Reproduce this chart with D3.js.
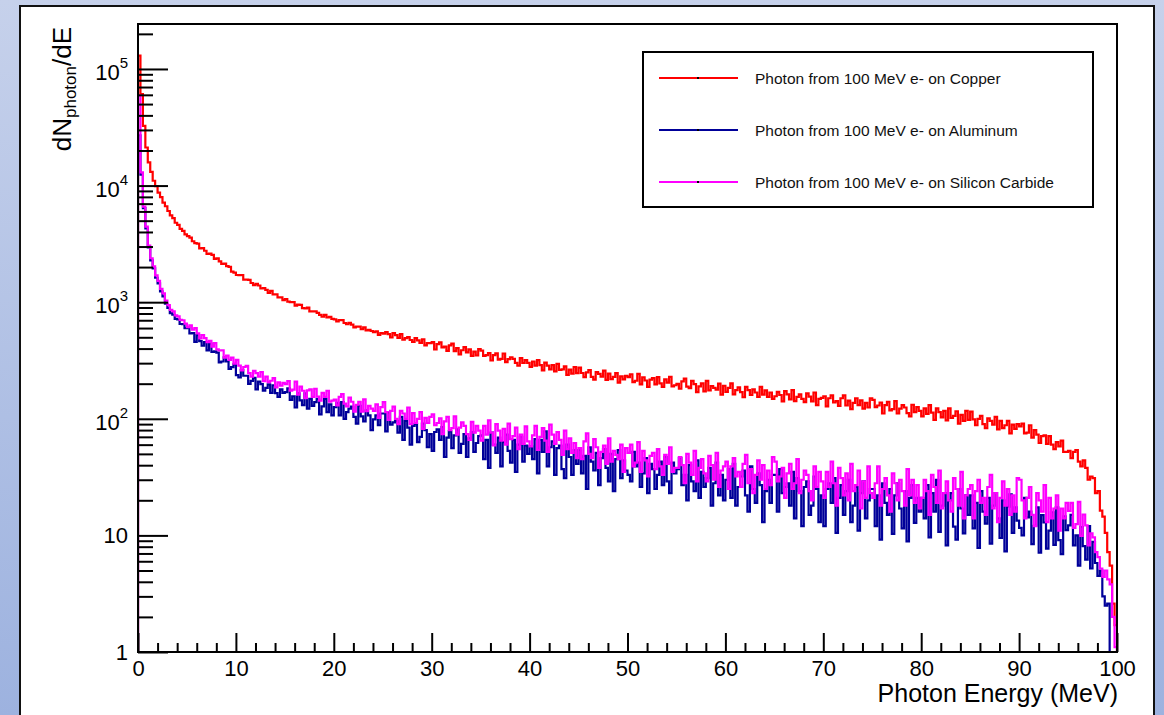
<!DOCTYPE html>
<html><head><meta charset="utf-8">
<script src="https://cdn.jsdelivr.net/npm/d3@7"></script>
<style>
html,body{margin:0;padding:0;overflow:hidden;background:#fff;}
svg text{font-family:"Liberation Sans",Arial,Helvetica,sans-serif;}
</style></head><body>
<svg id="chart" width="1164" height="715"></svg>
<script>
// ---------------- DATA ----------------
const energyMin = 0, energyMax = 100, binWidth = 0.25; // MeV per bin
const xTickValues = [0,10,20,30,40,50,60,70,80,90,100];
const xTickLabels = ["0","10","20","30","40","50","60","70","80","90","100"];
const yTickValues = [1,10,100,1000,10000,100000];
const yTickBase = ["1","10","10","10","10","10"];
const yTickExp  = ["","","2","3","4","5"];
const yMax = 2.43e5;
const seriesNames = ["Photon from 100 MeV e- on Copper","Photon from 100 MeV e- on Aluminum","Photon from 100 MeV e- on Silicon Carbide"];
const xTitle = "Photon Energy (MeV)";

const copper = [
130000,61000,32500,21200,15800,13100,11000,9900,8700,7950,7150,6650,6050,5550,5250,4800,4600,4250,4080,3820,
3680,3580,3330,3210,3180,2890,2910,2760,2590,2610,2540,2350,2380,2240,2130,2140,2040,2010,1830,1790,
1710,1705,1710,1560,1560,1555,1460,1400,1435,1390,1310,1320,1275,1200,1250,1165,1170,1100,1100,1040,
1065,1012,1000,1000,934,953,947,890,883,898,835,835,833,811,777,750,778,739,747,720,
712,683,701,702,663,647,664,642,608,618,618,586,609,573,579,566,554,563,525,544,
537,554,533,498,543,522,495,532,478,492,501,474,456,491,471,447,481,426,445,446,
455,393,437,453,409,415,383,426,442,381,404,357,387,411,371,394,347,377,349,396,
384,347,352,365,316,351,364,322,326,363,306,325,337,326,302,285,332,301,319,302,
279,310,286,318,288,260,303,286,265,288,255,296,262,265,282,238,264,244,278,246,
275,247,228,250,262,229,217,251,243,230,259,216,244,219,229,246,204,231,218,234,
228,241,206,212,243,197,227,213,188,217,223,197,228,201,188,218,204,229,190,194,
199,181,209,221,189,183,211,198,169,190,201,172,211,175,191,184,178,200,161,192,
170,184,201,162,176,186,169,153,188,176,160,179,168,154,188,161,175,154,168,148,
156,170,160,141,173,162,147,176,142,154,162,148,139,165,155,141,168,131,148,151,
156,128,150,159,138,142,129,150,159,130,143,121,137,150,131,144,122,137,125,150,
145,126,130,138,111,131,140,118,121,142,111,122,131,125,112,105,132,114,126,117,
105,123,110,131,113,98,123,114,103,117,97,123,102,106,116,91,108,96,117,98,
115,99,88,100,106,90,83,101,96,89,104,81,96,83,88,96,75,89,82,90,
86,91,75,76,88,69,80,73,62,71,72,61,71,60,55,63,58,65,52,52,
53,46,52,54,43,39,44,38,30,32,31,23,24,16.3,14.5,10.5,7.2,5.5,2.6,1.7
];
const aluminum = [
27000,12400,6400,4300,2950,2280,1950,1620,1450,1240,1120,970,895,805,780,720,710,650,648,600,
605,539,544,457,522,463,423,454,386,442,374,379,370,305,310,336,310,268,277,293,
237,226,261,234,234,199,211,224,179,208,198,174,184,197,167,194,166,154,179,167,
169,182,145,156,125,165,144,131,165,122,148,129,139,148,109,128,148,114,133,107,
126,137,107,139,100,114,122,127,104,91,129,105,95,118,107,80,99,107,88,111,
111,78,113,89,93,96,76,104,66,96,84,60,87,90,63,70,91,80,57,74,
53,77,81,66,85,47,69,78,56,72,81,51,61,74,47,68,77,52,62,71,
72,45,66,38,76,60,51,69,39,63,73,53,42,66,35,60,70,43,59,50,
58,45,67,34,66,52,78,39,57,64,33,56,59,37,31,60,47,33,54,41,
54,34,48,25,57,43,36,51,27,46,55,38,29,50,24,45,54,31,44,36,
33,29,52,39,42,26,34,46,23,41,37,25,33,43,27,47,29,23,42,34,
37,46,27,33,20,40,29,24,44,21,35,26,31,38,18,28,42,22,33,20,
30,37,21,41,18,26,32,36,22,16,39,25,19,34,27,13,24,30,19,33,
33,16,37,23,26,28,18,35,14,31,24,12,26,29,15,18,32,25,13,22,
12,25,28,19,31,10.5,21,27,15,24,30,13,18,26,11,23,29,14,20,25,
25,12,22,9.2,28,19,15,25,10.3,22,28,17,11.5,24,8.9,21,27,12.8,21,16,
21,14,27,9.6,23,16,30,10.7,18,23,8.2,20,23,11.9,9.2,25,17,10.4,22,15,
22,11.5,19,7.8,24,16,12.6,21,8.5,18,23,14,9.5,20,7.3,17.6,22.5,10.5,17.4,13.4,
11.6,10,21,14.3,16,8.4,12.1,17.4,7.1,14.9,12.9,7.7,11,15.8,8.3,17.4,9.1,6.9,14.6,11.1,
12.2,15,8.2,10,5.5,11.8,8.1,6.2,12,5.2,8.8,5.8,4.5,5,3,2.5,2.6,0,0,0
];
const siliconCarbide = [
59000,13000,6600,4450,3050,2380,2030,1700,1520,1300,1190,1030,945,860,835,770,755,705,700,655,
611,633,581,599,540,489,523,492,454,466,416,445,394,385,387,335,348,320,334,297,
320,286,260,278,284,246,230,258,246,230,252,210,230,206,212,223,186,205,192,203,
198,210,174,178,208,161,189,174,150,175,179,154,181,155,143,167,154,174,140,143,
146,130,154,163,135,128,152,140,115,132,140,115,147,116,129,122,117,133,102,126,
139,114,98,117,127,100,90,117,111,100,125,90,112,92,100,114,82,102,92,104,
109,88,92,101,74,95,104,80,83,105,73,84,93,87,74,66,94,76,87,79,
65,87,73,97,76,59,90,79,65,82,60,91,67,71,84,55,73,61,86,64,
58,72,87,54,70,83,65,52,89,73,61,77,66,49,79,55,68,51,62,46,
56,45,64,75,50,46,67,57,38,52,59,41,68,43,53,49,45,60,35,56,
51,60,39,42,63,35,53,44,32,48,51,37,55,39,33,49,41,57,35,38,
38,47,40,28,50,42,33,53,29,38,45,34,29,48,40,30,51,26,36,39,
43,25,39,46,32,35,26,41,49,28,37,23,33,44,30,40,25,36,27,47,
43,29,32,38,21,34,41,25,28,45,23,30,36,33,24,20,39,26,35,29,
21,35,26,43,28,18,38,31,22,34,20,41,24,27,36,17,29,21,39,23,
21,28,39,18,25,31,22,16,34,28,20,30,24,18,37,22,30,19,27,17,
21,30,24,15,33,26,19,36,17,23,29,20,16,31,25,18,35,14,22,25,
27,14,24,30,19,21,15,26,33,17,23,13,21,29,18,25,15,22,16,31,
30,20,14,21,26,15,12,23,20,16,27,13,21,14,17,22,11,17,14,19,
16.2,19,11.6,12.5,19.4,9.9,15.1,12.2,8.2,10.4,9.6,7.2,6.5,5.2,4.4,5,4.2,3.8,2,1.1
];
const seriesValues = [copper, aluminum, siliconCarbide];
const seriesColors = ["#ff0000", "#000099", "#ff00ff"];

// ---------------- DRAW ----------------
const svg = d3.select("#chart");
const W = 1164, H = 715;
const plot = {left:138, right:1117, top:24, bottom:652};

const defs = svg.append("defs");
const grad = defs.append("linearGradient").attr("id","bg").attr("x1",0).attr("y1",0).attr("x2",0).attr("y2",1);
grad.append("stop").attr("offset","0%").attr("stop-color","#c6d1eb");
grad.append("stop").attr("offset","100%").attr("stop-color","#9db2df");
defs.append("clipPath").attr("id","clip").append("rect")
  .attr("x",plot.left).attr("y",plot.top).attr("width",plot.right-plot.left).attr("height",plot.bottom-plot.top);

svg.append("rect").attr("width",W).attr("height",H).attr("fill","url(#bg)");
svg.append("rect").attr("x",20).attr("y",6).attr("width",1134).attr("height",740)
  .attr("fill","#fff").attr("stroke","#111").attr("stroke-width",2);

const x = d3.scaleLinear().domain([energyMin, energyMax]).range([plot.left, plot.right]);
const y = d3.scaleLog().domain([1, yMax]).range([plot.bottom, plot.top]);

// histograms
function histPoints(vals){
  const pts = [[energyMin, 0]];
  vals.forEach((v,i)=>{ pts.push([energyMin+i*binWidth, v], [energyMin+(i+1)*binWidth, v]); });
  pts.push([energyMin+vals.length*binWidth, 0]);
  return pts;
}
const yPix = v => (v <= 0) ? plot.bottom + 6 : y(v);
const line = d3.line().x(d=>x(d[0])).y(d=>yPix(d[1]));
const gH = svg.append("g").attr("clip-path","url(#clip)");
seriesValues.forEach((vals,k)=>{
  gH.append("path").attr("d", line(histPoints(vals)))
    .attr("fill","none").attr("stroke",seriesColors[k]).attr("stroke-width",2.2)
    .attr("stroke-linejoin","miter");
});

// axes ticks (ROOT style, inward)
const yMinorVals = y.ticks().filter(v => yTickValues.indexOf(v) < 0);
const gAx = svg.append("g");
function styleAxis(g){ g.select(".domain").remove(); g.selectAll("line").attr("stroke","#000").attr("stroke-width",2); }
gAx.append("g").attr("transform",`translate(${plot.left},0)`)
  .call(d3.axisLeft(y).tickValues(yTickValues).tickSize(-30).tickFormat("")).call(styleAxis);
gAx.append("g").attr("transform",`translate(${plot.left},0)`)
  .call(d3.axisLeft(y).tickValues(yMinorVals).tickSize(-15).tickFormat("")).call(styleAxis);
const xMinorVals = d3.range(energyMin, energyMax+0.001, 2).filter(v => xTickValues.indexOf(v) < 0);
gAx.append("g").attr("transform",`translate(0,${plot.bottom})`)
  .call(d3.axisBottom(x).tickValues(xTickValues).tickSize(-19).tickPadding(8)
        .tickFormat((d,i)=>xTickLabels[i])).call(styleAxis)
  .call(g=>g.selectAll("text").attr("font-size",22).attr("fill","#000")
        .attr("font-family","Liberation Sans, Arial, sans-serif"));
gAx.append("g").attr("transform",`translate(0,${plot.bottom})`)
  .call(d3.axisBottom(x).tickValues(xMinorVals).tickSize(-9).tickFormat("")).call(styleAxis);

// y labels with superscripts
yTickValues.forEach((v,i)=>{
  const hasExp = yTickExp[i] !== "";
  const t = svg.append("text").attr("x",128).attr("y", y(v) + (hasExp ? 11 : 8))
    .attr("text-anchor","end").attr("font-size",22).attr("fill","#000");
  t.append("tspan").text(yTickBase[i]);
  if (hasExp) t.append("tspan").attr("font-size",15).attr("dy",-12).text(yTickExp[i]);
});

// frame
svg.append("rect").attr("x",plot.left).attr("y",plot.top)
  .attr("width",plot.right-plot.left).attr("height",plot.bottom-plot.top)
  .attr("fill","none").attr("stroke","#000").attr("stroke-width",2);

// axis titles
svg.append("text").attr("x",1118).attr("y",702).attr("text-anchor","end")
  .attr("font-size",25).attr("fill","#000").text(xTitle);
const yt = svg.append("text").attr("transform","translate(71,27) rotate(-90)")
  .attr("text-anchor","end").attr("font-size",26).attr("fill","#000");
yt.append("tspan").text("dN");
yt.append("tspan").attr("font-size",17).attr("dy",5).text("photon");
yt.append("tspan").attr("dy",-5).text("/dE");

// legend
const lg = svg.append("g");
lg.append("rect").attr("x",643).attr("y",52).attr("width",450).attr("height",155)
  .attr("fill","#fff").attr("stroke","#000").attr("stroke-width",2);
const legY = [78,130,182];
seriesNames.forEach((name,k)=>{
  lg.append("line").attr("x1",659).attr("x2",738).attr("y1",legY[k]).attr("y2",legY[k])
    .attr("stroke",seriesColors[k]).attr("stroke-width",2);
  lg.append("rect").attr("x",697).attr("y",legY[k]-1).attr("width",2).attr("height",2).attr("fill","#000");
  lg.append("text").attr("x",755).attr("y",legY[k]+5.5).attr("font-size",15.5).attr("fill","#111").text(name);
});
</script>
</body></html>
